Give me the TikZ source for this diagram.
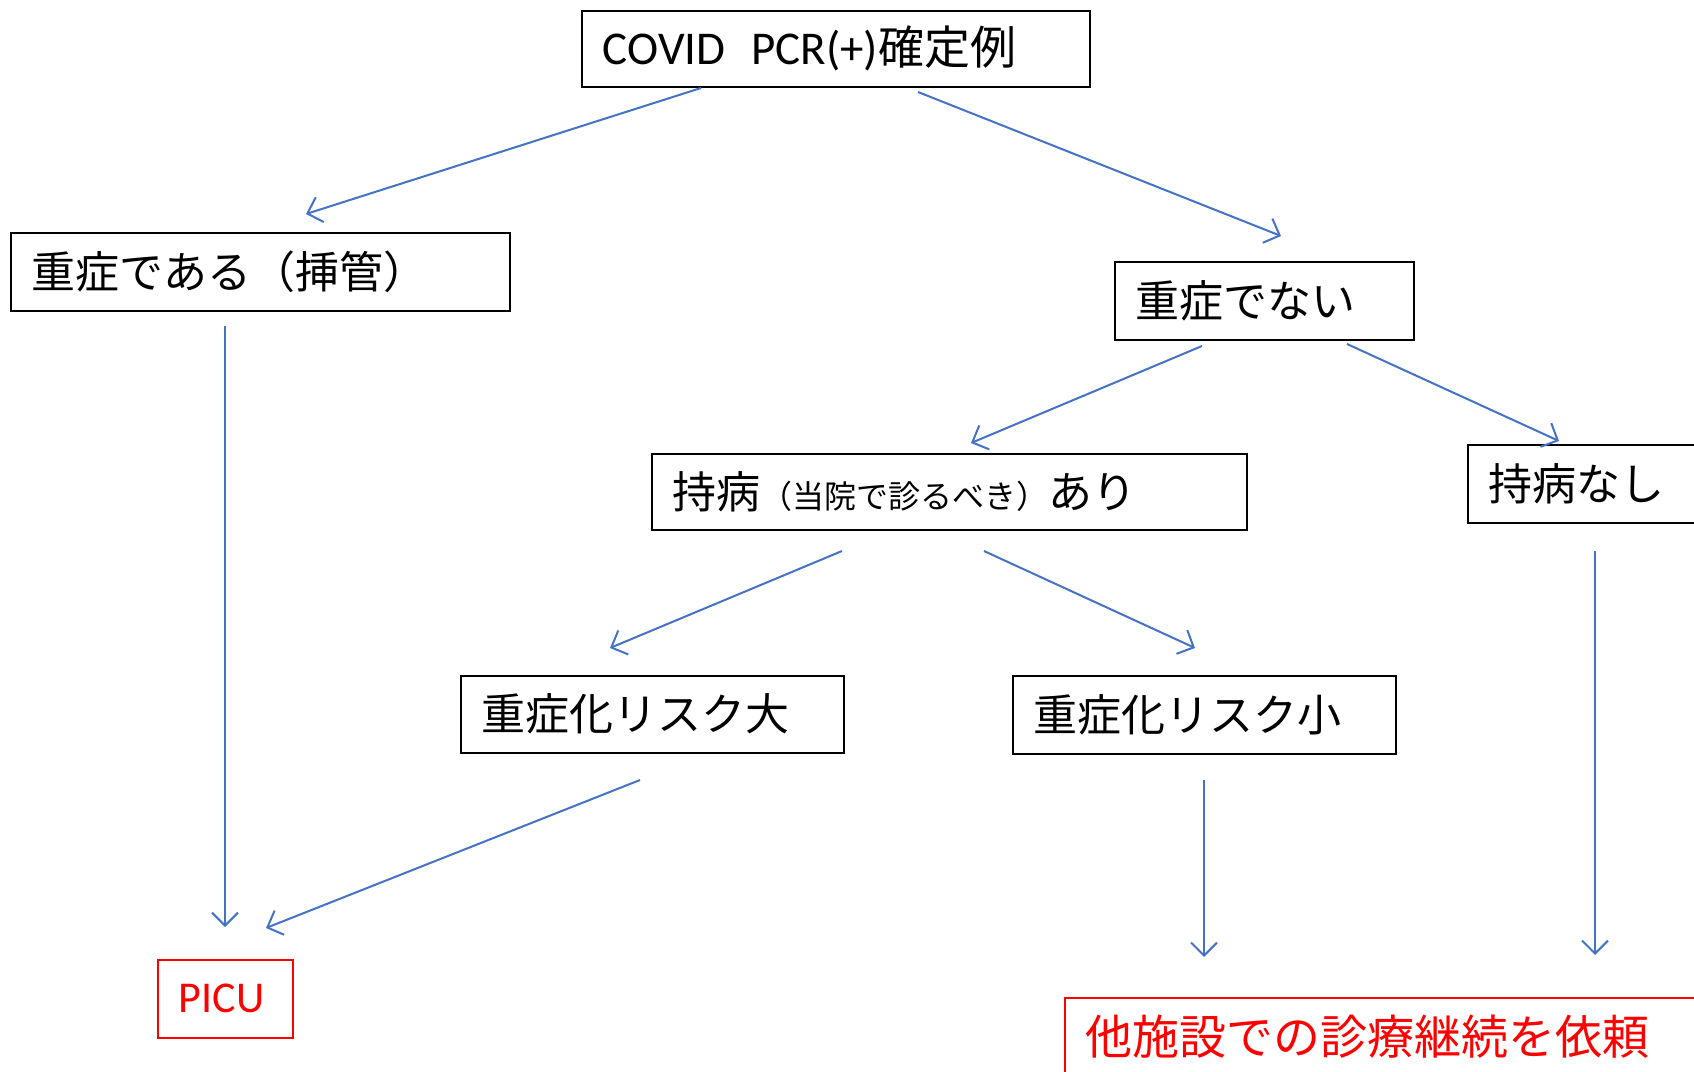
\documentclass[tikz,border=0pt]{standalone}
\usepackage{fontspec}
\setmainfont{Carlito}
\newfontfamily\jp{Noto Sans CJK JP}
\usetikzlibrary{arrows.meta}
\definecolor{arrowblue}{RGB}{68,114,196}
\definecolor{boxred}{RGB}{255,0,0}
\begin{document}
\begin{tikzpicture}[x=1pt,y=-1pt,
  box/.style={draw, line width=1.6pt, rectangle, anchor=north west, inner xsep=21pt, inner ysep=0pt, align=left},
  redbox/.style={box, draw=boxred, text=boxred},
  conn/.style={draw=arrowblue, line width=2pt, -{Straight Barb[length=13pt,width=26pt,line width=2pt]}},
  big/.style={font=\jp\fontsize{44}{52}\selectfont}
]
\useasboundingbox (0,0) rectangle (1694,1071);
\clip (0,0) rectangle (1694,1071);

\node[box, minimum width=508pt, minimum height=76pt, text width=466pt] (covid) at (581,10)
  {\fontsize{47}{54}\selectfont COVID\hspace{26pt}PCR(+){\jp\fontsize{46}{54}\selectfont 確定例}};
\node[box, big, minimum width=499pt, minimum height=78pt, text width=457pt] (sev) at (10,232)
  {重症である（挿管）};
\node[box, big, minimum width=299pt, minimum height=78pt, text width=257pt] (nonsev) at (1114,261)
  {重症でない};
\node[box, big, minimum width=595pt, minimum height=76pt, text width=553pt] (ari) at (651,453)
  {持病{\fontsize{32}{36}\selectfont （当院で診るべき）}あり};
\node[box, big, minimum width=280pt, minimum height=78pt, text width=238pt] (nashi) at (1467,444)
  {持病なし};
\node[box, big, minimum width=383pt, minimum height=77pt, text width=341pt] (dai) at (460,675)
  {重症化リスク大};
\node[box, big, minimum width=383pt, minimum height=78pt, text width=341pt] (sho) at (1012,675)
  {重症化リスク小};
\node[redbox, minimum width=135pt, minimum height=78pt, text width=93pt] (picu) at (157,959)
  {\fontsize{44}{52}\selectfont PICU};
\node[redbox, font=\jp\fontsize{47}{54}\selectfont, minimum width=700pt, minimum height=78pt, text width=658pt] (other) at (1064,997)
  {他施設での診療継続を依頼};

% connector end points
\coordinate (c1s) at (701,88);   \coordinate (c1e) at (306,214);
\coordinate (c2s) at (918,92);   \coordinate (c2e) at (1281,236);
\coordinate (c3s) at (225,326);  \coordinate (c3e) at (225,927);
\coordinate (c4s) at (1202,346); \coordinate (c4e) at (971,443);
\coordinate (c5s) at (1347,344); \coordinate (c5e) at (1559,441);
\coordinate (c6s) at (842,551);  \coordinate (c6e) at (610,648);
\coordinate (c7s) at (984,551);  \coordinate (c7e) at (1195,648);
\coordinate (c8s) at (640,780);  \coordinate (c8e) at (266,928);
\coordinate (c9s) at (1204,780); \coordinate (c9e) at (1204,957);
\coordinate (c10s) at (1595,551); \coordinate (c10e) at (1595,955);

\draw[conn] (c1s) -- (c1e);
\draw[conn] (c2s) -- (c2e);
\draw[conn] (c3s) -- (c3e);
\draw[conn] (c4s) -- (c4e);
\draw[conn] (c5s) -- (c5e);
\draw[conn] (c6s) -- (c6e);
\draw[conn] (c7s) -- (c7e);
\draw[conn] (c8s) -- (c8e);
\draw[conn] (c9s) -- (c9e);
\draw[conn] (c10s) -- (c10e);
\end{tikzpicture}
\end{document}
